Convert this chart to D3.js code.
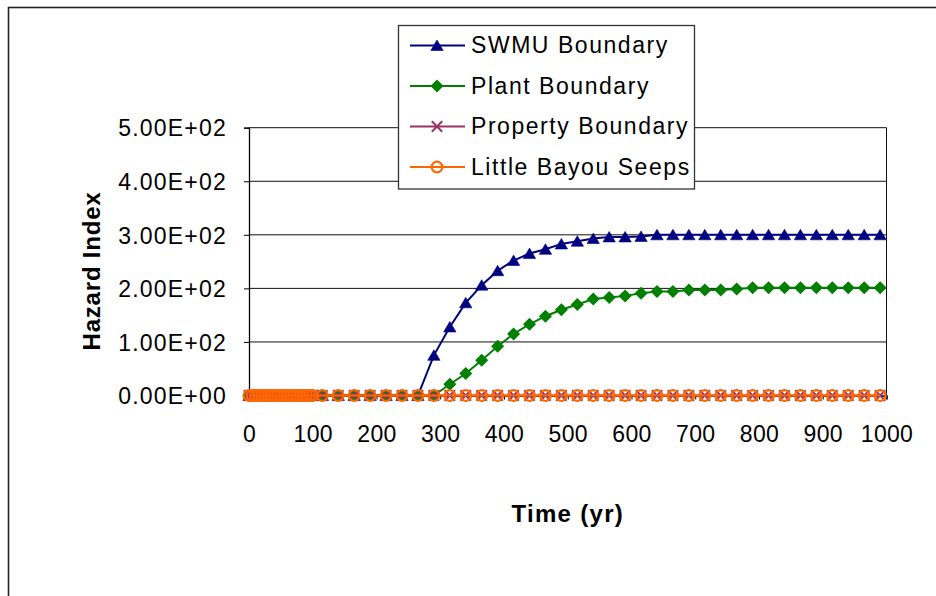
<!DOCTYPE html>
<html>
<head>
<meta charset="utf-8">
<script src="https://cdn.jsdelivr.net/npm/d3@7"></script>
<style>
  html, body { margin: 0; padding: 0; background: #fff; }
  svg { display: block; }
  text { font-family: "Liberation Sans", Arial, sans-serif; fill: #000; }
</style>
</head>
<body>
<svg id="chart" width="936" height="596"></svg>
<script>
// ---- data ----
const times = [0,5,10,15,20,25,30,35,40,45,50,55,60,65,70,75,80,85,90,95,100,
  115,140,165,190,215,240,265,290,315,340,365,390,415,440,465,490,515,540,565,590,
  615,640,665,690,715,740,765,790,815,840,865,890,915,940,965,990];

const swmuBoundary = [0,0,0,0,0,0,0,0,0,0,0,0,0,0,0,0,0,0,0,0,0,
  0,0,0,0,0,0,0,75,128,173,206,233,252,265,273,283,288,293,296,296,
  297,300,300,300,300,300,300,300,300,300,300,300,300,300,300,300];

const plantBoundary = [0,0,0,0,0,0,0,0,0,0,0,0,0,0,0,0,0,0,0,0,0,
  0,0,0,0,0,0,0,0,21,41,66,92,115,133,148,160,170,180,183,186,
  191,194,194,197,197,197,199,201,201,201,201,201,201,201,201,201];

const propertyBoundary = [0,0,0,0,0,0,0,0,0,0,0,0,0,0,0,0,0,0,0,0,0,
  0,0,0,0,0,0,0,0,0,0,0,0,0,0,0,0,0,0,0,0,
  0,0,0,0,0,0,0,0,0,0,0,0,0,0,0,0];

const littleBayouSeeps = [0,0,0,0,0,0,0,0,0,0,0,0,0,0,0,0,0,0,0,0,0,
  0,0,0,0,0,0,0,0,0,0,0,0,0,0,0,0,0,0,0,0,
  0,0,0,0,0,0,0,0,0,0,0,0,0,0,0,0];

const seriesNames = ["SWMU Boundary", "Plant Boundary", "Property Boundary", "Little Bayou Seeps"];
const xTickValues = [0,100,200,300,400,500,600,700,800,900,1000];
const yTickValues = [0,100,200,300,400,500];
const yTickLabels = ["0.00E+00","1.00E+02","2.00E+02","3.00E+02","4.00E+02","5.00E+02"];
const xTitle = "Time (yr)";
const yTitle = "Hazard Index";

// ---- styling ----
const styles = [
  { color: "#000080", marker: "triangle" },
  { color: "#008000", marker: "diamond" },
  { color: "#993366", marker: "x" },
  { color: "#FF6600", marker: "circle" }
];
const seriesValues = [swmuBoundary, plantBoundary, propertyBoundary, littleBayouSeeps];

const svg = d3.select("#chart");
const x = d3.scaleLinear().domain([0, 1000]).range([249, 886.5]);
const y = d3.scaleLinear().domain([0, 500]).range([395.5, 127.7]);

// chart area border
svg.append("rect").attr("x", 8.5).attr("y", 7.5).attr("width", 1000).attr("height", 700)
  .attr("fill", "#fff").attr("stroke", "#222").attr("stroke-width", 1.6);

// gridlines
svg.append("g").selectAll("line").data(yTickValues.slice(1)).join("line")
  .attr("x1", x(0)).attr("x2", x(1000))
  .attr("y1", d => y(d)).attr("y2", d => y(d))
  .attr("stroke", "#111").attr("stroke-width", 1);

// plot area right border
svg.append("line").attr("x1", x(1000)).attr("x2", x(1000))
  .attr("y1", y(500)).attr("y2", y(0)).attr("stroke", "#111").attr("stroke-width", 1);

// y axis
const yAxis = d3.axisLeft(y).tickValues(yTickValues).tickSize(5).tickPadding(17)
  .tickFormat((d, i) => yTickLabels[i]);
const gy = svg.append("g").attr("transform", `translate(${x(0)},0)`).call(yAxis);
gy.select(".domain").attr("stroke", "#000").attr("stroke-width", 1.3);
gy.selectAll(".tick line").attr("stroke", "#000");
gy.selectAll(".tick text").attr("font-size", 23).attr("letter-spacing", "1.2px")
  .attr("font-family", "'Liberation Sans', Arial, sans-serif").attr("fill", "#000")
  .attr("dy", "0.36em");

// x axis
const xAxis = d3.axisBottom(x).tickValues(xTickValues).tickSize(4).tickPadding(42)
  .tickFormat(d3.format("d"));
const gx = svg.append("g").attr("transform", `translate(0,${y(0)})`).call(xAxis);
gx.select(".domain").attr("stroke", "#000").attr("stroke-width", 1.3);
gx.selectAll(".tick line").attr("stroke", "#000");
gx.selectAll(".tick text").attr("font-size", 23).attr("letter-spacing", "0.3px")
  .attr("font-family", "'Liberation Sans', Arial, sans-serif").attr("fill", "#000")
  .attr("dy", "0");

// axis titles
svg.append("text").attr("x", x(500)).attr("y", 522).attr("text-anchor", "middle")
  .attr("font-size", 24).attr("font-weight", "bold").attr("letter-spacing", "1.3px")
  .text(xTitle);
svg.append("text").attr("transform", `translate(100,271) rotate(-90)`)
  .attr("text-anchor", "middle").attr("font-size", 24).attr("font-weight", "bold")
  .attr("letter-spacing", "0.8px").text(yTitle);

// marker drawing
function drawMarker(g, type, color) {
  if (type === "triangle") {
    g.append("path").attr("d", "M0,-5.5L6.2,5L-6.2,5Z").attr("fill", color).attr("stroke", color).attr("stroke-width", 0.6);
  } else if (type === "diamond") {
    g.append("path").attr("d", "M0,-6.5L6.5,0L0,6.5L-6.5,0Z").attr("fill", color);
  } else if (type === "x") {
    g.append("path").attr("d", "M-5.2,-5.2L5.2,5.2M-5.2,5.2L5.2,-5.2").attr("stroke", color).attr("stroke-width", 2).attr("fill", "none");
  } else if (type === "circle") {
    g.append("circle").attr("r", 5.4).attr("fill", "none").attr("stroke", color).attr("stroke-width", 2.2);
  }
}

const line = d3.line().x(d => x(d[0])).y(d => y(d[1]));

seriesValues.forEach((vals, si) => {
  const pts = times.map((t, i) => [t, vals[i]]);
  const g = svg.append("g");
  g.append("path").datum(pts).attr("d", line).attr("fill", "none")
    .attr("stroke", styles[si].color).attr("stroke-width", 2);
  pts.forEach(p => {
    const mg = g.append("g").attr("transform", `translate(${x(p[0])},${y(p[1])})`);
    drawMarker(mg, styles[si].marker, styles[si].color);
  });
});

// legend
const legend = svg.append("g");
legend.append("rect").attr("x", 398.5).attr("y", 25.5).attr("width", 296).attr("height", 163.5)
  .attr("fill", "#fff").attr("stroke", "#333").attr("stroke-width", 1.3);
seriesNames.forEach((name, i) => {
  const ry = 45.5 + i * 40.5;
  const row = legend.append("g");
  row.append("line").attr("x1", 410).attr("x2", 465).attr("y1", ry).attr("y2", ry)
    .attr("stroke", styles[i].color).attr("stroke-width", 2);
  const mg = row.append("g").attr("transform", `translate(437,${ry})`);
  drawMarker(mg, styles[i].marker, styles[i].color);
  row.append("text").attr("x", 471).attr("y", ry + 7.5).attr("font-size", 23)
    .attr("letter-spacing", "1.55px").text(name);
});
</script>
</body>
</html>
